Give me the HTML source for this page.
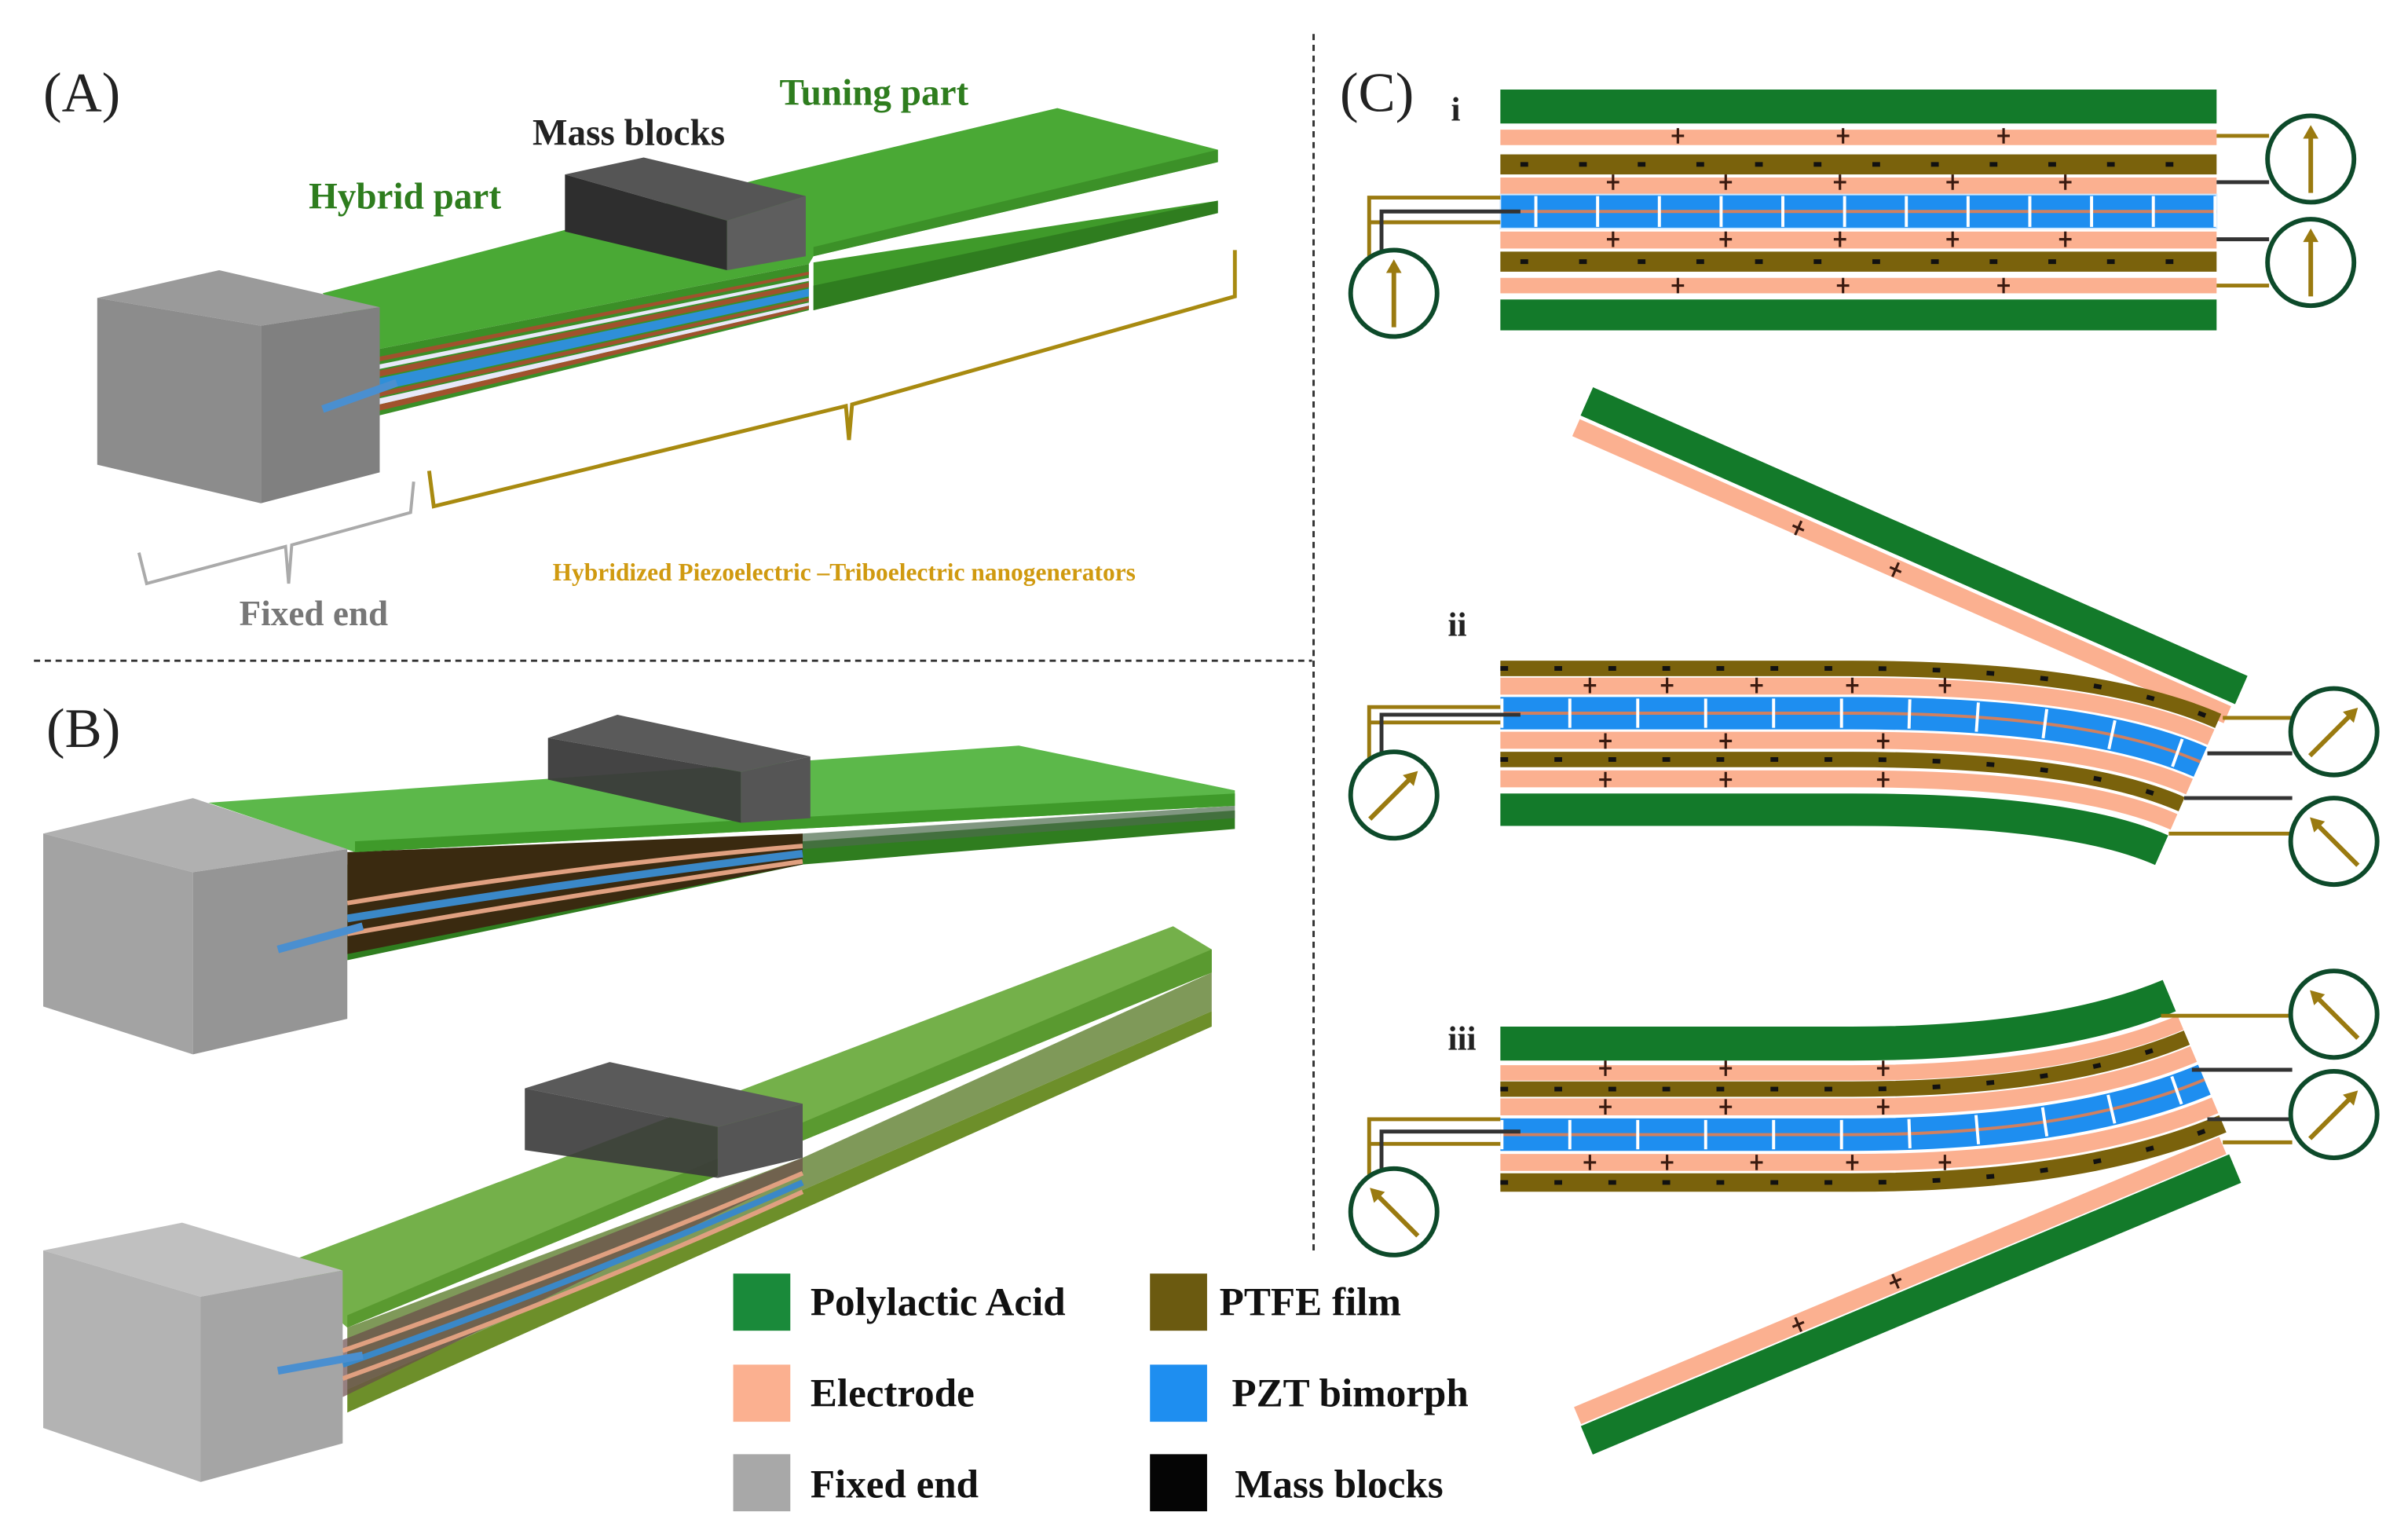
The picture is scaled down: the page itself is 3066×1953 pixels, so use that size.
<!DOCTYPE html>
<html><head><meta charset="utf-8"><style>
html,body{margin:0;padding:0;background:#fff;}
svg{display:block;}
text{font-family:"Liberation Serif",serif;}
</style></head><body>
<svg id="s" xmlns="http://www.w3.org/2000/svg" width="3066" height="1953" viewBox="0 0 1560 993.7" preserveAspectRatio="none">
<rect width="1560" height="994" fill="#fff"/>
<line x1="22" y1="428" x2="850" y2="428" stroke="#333" stroke-width="1.5" stroke-dasharray="4 3"/>
<line x1="851" y1="22" x2="851" y2="810" stroke="#333" stroke-width="1.5" stroke-dasharray="4 3"/>

<text x="28" y="72" font-size="36" fill="#222">(A)</text>
<text x="505" y="68" font-size="24" font-weight="bold" fill="#2e7d1e">Tuning part</text>
<text x="345" y="94" font-size="24" font-weight="bold" fill="#222">Mass blocks</text>
<text x="200" y="135" font-size="24" font-weight="bold" fill="#2e7d1e">Hybrid part</text>
<polygon points="527,170 789,130 789,138 527,201" fill="#3f9a2a"/>
<polygon points="527,185 789,130 789,138 527,201" fill="#2f7d1f"/>
<polygon points="209,190 492,116 685,70 789,97 789,105 527,166 524,171 246,226" fill="#4aa935"/>
<polygon points="527,160 789,97 789,105 527,166" fill="#3c9128"/>
<g>
<polygon points="246,226 524,171 524,201 246,269" fill="#3b8f27"/>
<polygon points="246,231 524,176 524,178 246,234" fill="#a0522d"/>
<polygon points="246,236 524,180 524,182 246,239" fill="#e8e8f8"/>
<polygon points="246,240 524,183 524,186 246,244" fill="#a0522d"/>
<polygon points="246,245 524,187 524,192 246,253" fill="#2f8fd8"/>
<polygon points="246,254 524,193 524,195 246,257" fill="#a0522d"/>
<polygon points="246,258 524,196 524,198 246,262" fill="#e8e8f8"/>
<polygon points="246,262 524,198 524,200 246,266" fill="#a0522d"/>
</g>
<polygon points="366,113 417,102 522,127 471,143" fill="#555"/>
<polygon points="366,113 471,143 471,175 366,150" fill="#2e2e2e"/>
<polygon points="471,143 522,127 522,166 471,175" fill="#5e5e5e"/>
<polygon points="63,193 142,175 246,199 169,211" fill="#9a9a9a"/>
<polygon points="63,193 169,211 169,326 63,301" fill="#8c8c8c"/>
<polygon points="169,211 246,199 246,306 169,326" fill="#808080"/>
<line x1="209" y1="265" x2="257" y2="248" stroke="#4a8fd0" stroke-width="5"/>
<polyline points="278,305 281,328 548,263 550,285 552,262 800,192 800,162" fill="none" stroke="#a88a10" stroke-width="2.5"/>
<polyline points="90,358 95,378 185,354 187,378 189,353 266,332 268,312" fill="none" stroke="#aaa" stroke-width="2"/>
<text x="155" y="405" font-size="23" font-weight="bold" fill="#777">Fixed end</text>
<text x="358" y="376" font-size="16" font-weight="bold" fill="#d09a10">Hybridized Piezoelectric –Triboelectric nanogenerators</text>

<text x="30" y="484" font-size="36" fill="#222">(B)</text>
<polygon points="225,560 520,545 800,525 800,537 520,560 225,622" fill="#2f7d1f"/>
<polygon points="225,552 520,540 520,560 225,618" fill="#3a2a10"/>
<path d="M225,585 Q380,560 520,548" stroke="#e0a080" stroke-width="3" fill="none"/>
<path d="M225,595 Q380,570 520,553" stroke="#3a88c8" stroke-width="5" fill="none"/>
<path d="M225,605 Q380,578 520,558" stroke="#e0a080" stroke-width="3" fill="none"/>
<polygon points="520,540 800,522 800,530 520,550" fill="#4b6b4b" opacity="0.7"/>
<polygon points="135,520 660,483 800,512 800,522 230,552" fill="#5cb84a"/>
<polygon points="230,545 800,514 800,522 230,552" fill="#3f9a2a"/>
<polygon points="355,478 400,463 525,490 480,500" fill="#5a5a5a"/>
<polygon points="355,478 480,500 480,533 355,505" fill="#3a3a3a" opacity="0.95"/>
<polygon points="480,500 525,490 525,530 480,533" fill="#555"/>
<polygon points="28,540 125,517 225,550 125,565" fill="#b0b0b0"/>
<polygon points="28,540 125,565 125,683 28,652" fill="#a3a3a3"/>
<polygon points="125,565 225,550 225,660 125,683" fill="#959595"/>
<line x1="180" y1="615" x2="235" y2="600" stroke="#4a8fd0" stroke-width="5"/>
<polygon points="225,900 785,655 785,665 225,915" fill="#6d8f2a"/>
<polygon points="225,860 520,750 785,630 785,655 225,900" fill="#5f7f30" opacity="0.8"/>
<polygon points="222,868 520,750 520,760 222,905" fill="#6a4a4a" opacity="0.7"/>
<path d="M222,875 Q380,820 520,760" stroke="#e0a080" stroke-width="3" fill="none"/>
<path d="M222,884 Q380,828 520,766" stroke="#3a88c8" stroke-width="4" fill="none"/>
<path d="M222,893 Q380,836 520,772" stroke="#e0a080" stroke-width="3" fill="none"/>
<polygon points="180,820 760,600 785,615 785,630 225,860" fill="#74b04a"/>
<polygon points="225,852 785,615 785,630 225,860" fill="#5a9a30"/>
<polygon points="340,705 395,688 520,715 465,730" fill="#5a5a5a"/>
<polygon points="340,705 465,730 465,763 340,745" fill="#3a3a3a" opacity="0.9"/>
<polygon points="465,730 520,715 520,750 465,763" fill="#555"/>
<polygon points="28,810 118,792 222,823 130,840" fill="#c0c0c0"/>
<polygon points="28,810 130,840 130,960 28,925" fill="#b3b3b3"/>
<polygon points="130,840 222,823 222,935 130,960" fill="#a5a5a5"/>
<line x1="180" y1="888" x2="235" y2="878" stroke="#4a8fd0" stroke-width="5"/>

<rect x="475" y="825" width="37" height="37" fill="#1a8a3a"/>
<rect x="475" y="884" width="37" height="37" fill="#fbb090"/>
<rect x="475" y="942" width="37" height="37" fill="#a8a8a8"/>
<rect x="745" y="825" width="37" height="37" fill="#6b5a10"/>
<rect x="745" y="884" width="37" height="37" fill="#1e8ef0"/>
<rect x="745" y="942" width="37" height="37" fill="#050505"/>
<g font-size="26" font-weight="bold" fill="#111">
<text x="525" y="852">Polylactic Acid</text>
<text x="525" y="911">Electrode</text>
<text x="525" y="970">Fixed end</text>
<text x="790" y="852">PTFE film</text>
<text x="798" y="911">PZT bimorph</text>
<text x="800" y="970">Mass blocks</text>
</g>

<text x="868" y="72" font-size="36" fill="#222">(C)</text>
<text x="940" y="78" font-size="22" font-weight="bold" fill="#222">i</text>
<text x="938" y="412" font-size="22" font-weight="bold" fill="#222">ii</text>
<text x="938" y="680" font-size="22" font-weight="bold" fill="#222">iii</text>
<g id="C"></g>
</svg>
<script>
const NS="http://www.w3.org/2000/svg",C=document.getElementById("C");
function el(t,a){const e=document.createElementNS(NS,t);for(const k in a)e.setAttribute(k,a[k]);C.appendChild(e);return e;}
const G="#137a2a",P="#fbb090",B="#7a620c",BL="#1e8ef0",W="#9a7a10";
function plus(x,y,r){const g=el("g",{transform:`translate(${x},${y}) rotate(${r||0})`});
 const a=document.createElementNS(NS,"path");a.setAttribute("d","M-4,0H4M0,-5V5");a.setAttribute("stroke","#3a1a10");a.setAttribute("stroke-width","1.6");g.appendChild(a);}
function meter(cx,cy,ang){el("circle",{cx,cy,r:28,fill:"#fff",stroke:"#0d4a2a","stroke-width":3});
 const r=ang*Math.PI/180,dx=Math.sin(r)*22,dy=-Math.cos(r)*22;
 el("line",{x1:cx-dx,y1:cy-dy,x2:cx+dx*0.7,y2:cy+dy*0.7,stroke:W,"stroke-width":3});
 const tx=cx+dx,ty=cy+dy,px=-Math.cos(r)*5,py=-Math.sin(r)*5,bx=cx+dx*0.6,by=cy+dy*0.6;
 el("polygon",{points:`${tx},${ty} ${bx+px},${by+py} ${bx-px},${by-py}`,fill:W});}
function wire(pts,c){el("polyline",{points:pts,fill:"none",stroke:c,"stroke-width":2.5});}
el("rect",{x:972,y:58,width:464,height:22,fill:G});
el("rect",{x:972,y:84,width:464,height:10,fill:P});
el("rect",{x:972,y:100,width:464,height:13,fill:B});
el("line",{x1:985,y1:106.5,x2:1436,y2:106.5,stroke:"#111","stroke-width":3,"stroke-dasharray":"5 33"});
el("rect",{x:972,y:115,width:464,height:11,fill:P});
el("rect",{x:972,y:126,width:464,height:22,fill:BL,stroke:"#cfe8ff","stroke-width":1});
el("line",{x1:985,y1:137,x2:1436,y2:137,stroke:"#d08060","stroke-width":2});
for(let x=995;x<1436;x+=40){el("line",{x1:x,y1:127,x2:x,y2:147,stroke:"#fff","stroke-width":2});}
el("rect",{x:972,y:150,width:464,height:11,fill:P});
el("rect",{x:972,y:163,width:464,height:13,fill:B});
el("line",{x1:985,y1:169.5,x2:1436,y2:169.5,stroke:"#111","stroke-width":3,"stroke-dasharray":"5 33"});
el("rect",{x:972,y:180,width:464,height:10,fill:P});
el("rect",{x:972,y:194,width:464,height:20,fill:G});
[1087,1194,1298].forEach(x=>{plus(x,88);plus(x,185);});
[1045,1118,1192,1265,1338].forEach(x=>{plus(x,118);plus(x,155);});
wire("972,128 887,128 887,175","#9a7a10");wire("972,144 887,144","#9a7a10");wire("985,137 895,137 895,165","#333");
wire("1436,88 1470,88","#9a7a10");wire("1436,118 1470,118","#333");wire("1436,155 1470,155","#333");wire("1436,185 1470,185","#9a7a10");
meter(903,190,0);meter(1497,103,0);meter(1497,170,0);
function bent(y0,w,col,ref,n,slope){const d=y0-ref.y0;const ex=ref.x+n[0]*d,ey=ref.y+n[1]*d;
 const cx=ex-Math.abs(ey-y0)/slope;
 return el("path",{d:`M972,${y0} L1200,${y0} Q${cx},${y0} ${ex},${ey}`,fill:"none",stroke:col,"stroke-width":w});}
const r2={y0:433,x:1437,y:467},n2=[-0.40,0.915];
el("line",{x1:1028,y1:260,x2:1452,y2:447,stroke:G,"stroke-width":20});
el("line",{x1:1021,y1:277,x2:1443,y2:463,stroke:P,"stroke-width":12});
plus(1165,342,24);plus(1228,369,24);
bent(433,10,B,r2,n2,0.44);bent(433,3,"#111",r2,n2,0.44).setAttribute("stroke-dasharray","5 30");
bent(444.5,11,P,r2,n2,0.44);
bent(462,21,BL,r2,n2,0.44);bent(462,2,"#d08060",r2,n2,0.44);
bent(462,19,"#fff",r2,n2,0.44).setAttribute("stroke-dasharray","2 42");
bent(479.5,11,P,r2,n2,0.44);
bent(492,10,B,r2,n2,0.44);bent(492,3,"#111",r2,n2,0.44).setAttribute("stroke-dasharray","5 30");
bent(504.5,11,P,r2,n2,0.44);
bent(524.5,21,G,r2,n2,0.44);
[1030,1080,1138,1200,1260].forEach(x=>plus(x,444));[1040,1118,1220].forEach(x=>{plus(x,480);plus(x,505);});
wire("972,458 887,458 887,500","#9a7a10");wire("972,468 887,468","#9a7a10");wire("985,463 895,463 895,490","#333");
wire("1440,465 1485,465","#9a7a10");wire("1430,488 1485,488","#333");wire("1415,517 1485,517","#333");wire("1405,540 1485,540","#9a7a10");
meter(903,515,45);meter(1512,474,45);meter(1512,545,-45);
const r3={y0:766,x:1440,y:728},n3=[0.385,0.923];
el("line",{x1:1022,y1:917,x2:1440,y2:742,stroke:P,"stroke-width":12});
el("line",{x1:1028,y1:933,x2:1448,y2:757,stroke:G,"stroke-width":20});
plus(1165,858,-23);plus(1228,830,-23);
bent(676,22,G,r3,n3,0.42);
bent(695,10,P,r3,n3,0.42);
bent(705.5,10,B,r3,n3,0.42);bent(705.5,3,"#111",r3,n3,0.42).setAttribute("stroke-dasharray","5 30");
bent(717,11,P,r3,n3,0.42);
bent(735,21,BL,r3,n3,0.42);bent(735,2,"#d08060",r3,n3,0.42);
bent(735,19,"#fff",r3,n3,0.42).setAttribute("stroke-dasharray","2 42");
bent(753,11,P,r3,n3,0.42);
bent(766,12,B,r3,n3,0.42);bent(766,3,"#111",r3,n3,0.42).setAttribute("stroke-dasharray","5 30");
[1040,1118,1220].forEach(x=>{plus(x,692);plus(x,717);});[1030,1080,1138,1200,1260].forEach(x=>plus(x,753));
wire("972,725 887,725 887,765","#9a7a10");wire("972,741 887,741","#9a7a10");wire("985,733 895,733 895,760","#333");
wire("1400,658 1485,658","#9a7a10");wire("1420,693 1485,693","#333");wire("1430,725 1485,725","#333");wire("1440,740 1485,740","#9a7a10");
meter(903,785,-45);meter(1512,657,-45);meter(1512,722,45);
</script>
</body></html>
